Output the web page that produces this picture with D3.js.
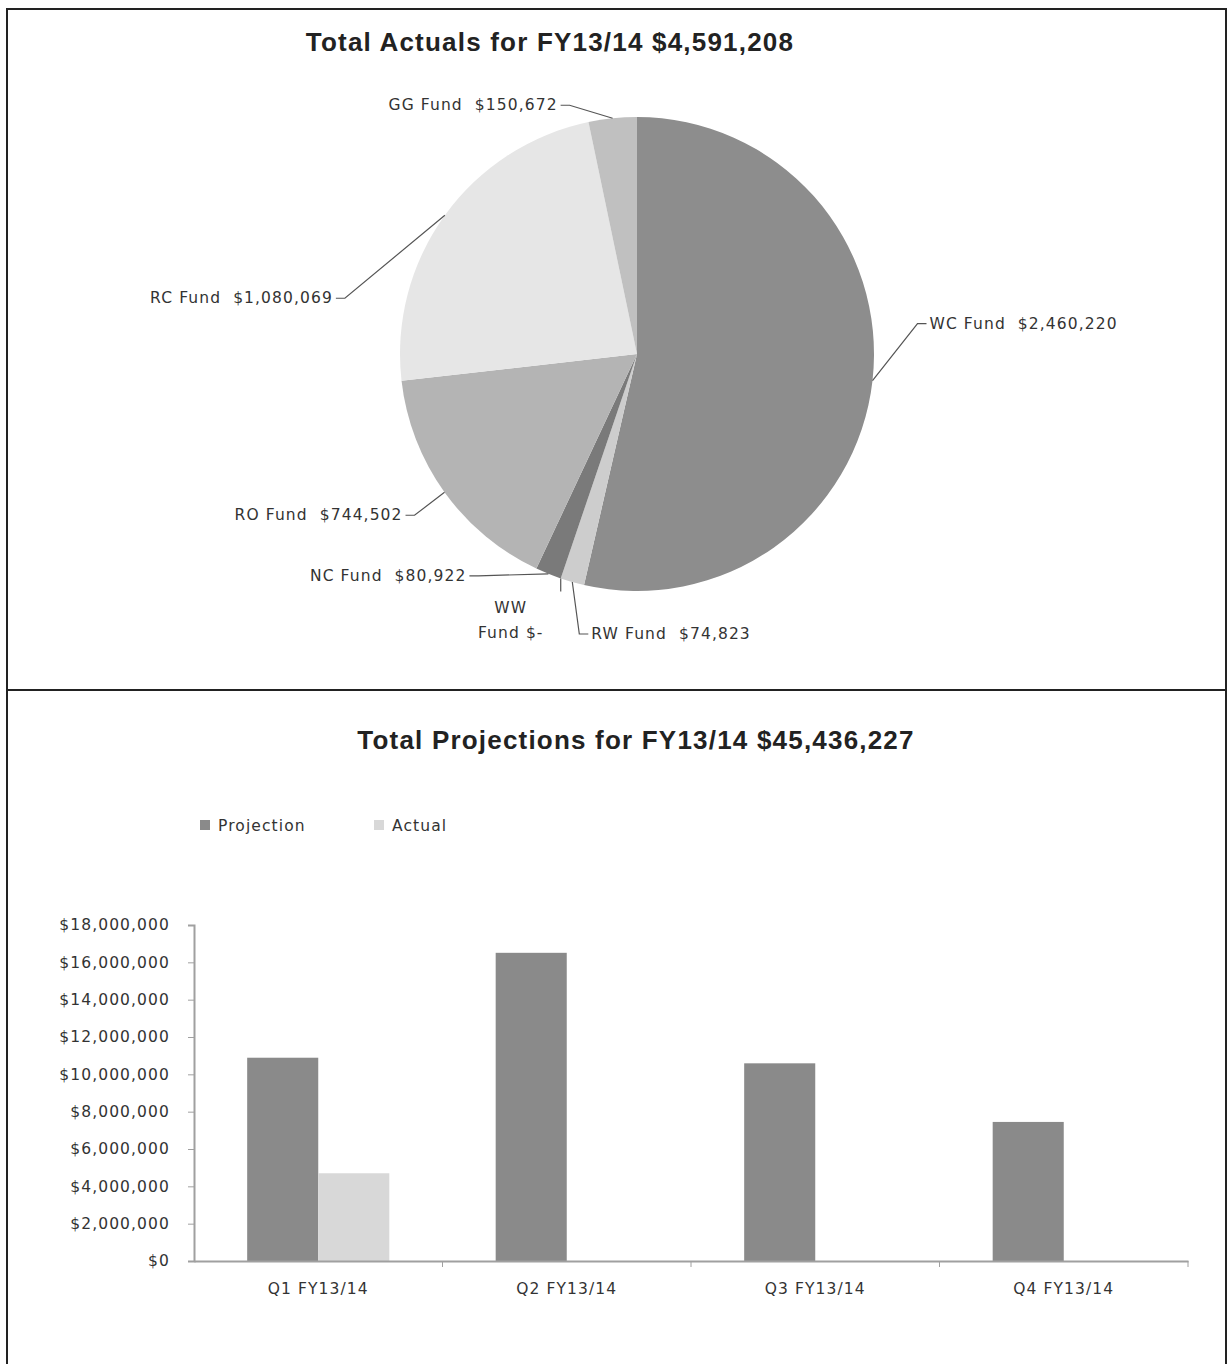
<!DOCTYPE html>
<html>
<head>
<meta charset="utf-8">
<script src="https://cdn.jsdelivr.net/npm/d3@7"></script>
<style>
  body { margin: 0; background: #fff; }
  svg { display: block; }
</style>
</head>
<body>
<div id="chart"></div>
<script>
// pie data
const fundNames = ['WC Fund', 'RW Fund', 'WW Fund', 'NC Fund', 'RO Fund', 'RC Fund', 'GG Fund'];
const fundValues = [2460220, 74823, 0, 80922, 744502, 1080069, 150672];
const fundColors = ['#8d8d8d', '#cdcdcd', '#a0a0a0', '#7a7a7a', '#b4b4b4', '#e6e6e6', '#c0c0c0'];

// bar data
const quarters = ['Q1 FY13/14', 'Q2 FY13/14', 'Q3 FY13/14', 'Q4 FY13/14'];
const seriesNames = ['Projection', 'Actual'];
const projectionValues = [10890000, 16510000, 10590000, 7450000];
const actualValues = [4700000, 0, 0, 0];
const yTicks = [0, 2000000, 4000000, 6000000, 8000000, 10000000, 12000000, 14000000, 16000000, 18000000];

const W = 1228, H = 1364;
const textColor = '#333';
const labelFont = '"DejaVu Sans", sans-serif';
const labelSize = '15.5px';
const labelSpacing = '1.1px';

const svg = d3.select('#chart')
    .append('svg')
    .attr('width', W)
    .attr('height', H);

svg.append('rect').attr('width', W).attr('height', H).attr('fill', '#fff');

// frame around both panels
svg.append('path')
    .attr('d', `M7,${H} L7,9 L1226,9 L1226,${H}`)
    .attr('fill', 'none')
    .attr('stroke', '#222')
    .attr('stroke-width', 2);
svg.append('line')
    .attr('x1', 7).attr('x2', 1226)
    .attr('y1', 690).attr('y2', 690)
    .attr('stroke', '#222')
    .attr('stroke-width', 2);

function styleLabel(sel) {
    return sel
        .style('font-family', labelFont)
        .style('font-size', labelSize)
        .style('letter-spacing', labelSpacing)
        .attr('fill', textColor);
}

function title(text, x, y) {
    svg.append('text')
        .attr('x', x).attr('y', y)
        .attr('text-anchor', 'middle')
        .style('font-family', '"Liberation Sans", Arial, sans-serif')
        .style('font-weight', 'bold')
        .style('font-size', '26px')
        .style('letter-spacing', '1.2px')
        .attr('fill', '#222')
        .text(text);
}

// ---------- pie ----------
title('Total Actuals for FY13/14 $4,591,208', 550, 51);

const cx = 637, cy = 354, radius = 237;
const pieG = svg.append('g').attr('transform', `translate(${cx},${cy})`);

const fundData = fundNames.map((name, i) => ({ name, value: fundValues[i], color: fundColors[i] }));
const pie = d3.pie().sort(null).value(d => d.value);
const arc = d3.arc().innerRadius(0).outerRadius(radius);
const arcs = pie(fundData);

pieG.selectAll('path.slice')
    .data(arcs)
    .join('path')
    .attr('class', 'slice')
    .attr('d', arc)
    .attr('fill', d => d.data.color);

// where each label sits, relative to the point where its leader touches the pie
const labelOffsets = [[45, -57], [7, 52], [0, 13], [-70, 2], [-30, 23], [-100, 83], [-43, -13]];
const labelSides = [1, 1, 0, -1, -1, -1, -1];
const fmtMoney = v => v === 0 ? '$-' : d3.format('$,')(v);

arcs.forEach((d, i) => {
    const mid = (d.startAngle + d.endAngle) / 2;
    const ex = Math.sin(mid) * radius;
    const ey = -Math.cos(mid) * radius;
    const bx = ex + labelOffsets[i][0];
    const by = ey + labelOffsets[i][1];
    const name = d.data.name;
    const money = fmtMoney(d.data.value);
    const dir = labelSides[i];

    if (dir === 0) {
        // the empty slice gets a short tick and a two-line label
        pieG.append('path')
            .attr('d', `M${ex},${ey} L${bx},${by}`)
            .attr('fill', 'none')
            .attr('stroke', '#555')
            .attr('stroke-width', 1.2);
        const t = styleLabel(pieG.append('text').attr('text-anchor', 'middle'));
        t.append('tspan').attr('x', bx - 50).attr('y', by + 22).text(name.split(' ')[0]);
        t.append('tspan').attr('x', bx - 50).attr('y', by + 47).text('Fund  ' + money);
        return;
    }

    const hx = bx + dir * 9;
    pieG.append('path')
        .attr('d', `M${ex},${ey} L${bx},${by} L${hx},${by}`)
        .attr('fill', 'none')
        .attr('stroke', '#555')
        .attr('stroke-width', 1.2);
    styleLabel(pieG.append('text'))
        .attr('x', hx + dir * 3)
        .attr('y', by + 5)
        .attr('text-anchor', dir > 0 ? 'start' : 'end')
        .style('white-space', 'pre')
        .text(name + '  ' + money);
});

// ---------- bars ----------
title('Total Projections for FY13/14 $45,436,227', 636, 749);

const seriesColors = ['#8a8a8a', '#d8d8d8'];

// legend
const legend = svg.append('g');
seriesNames.forEach((s, i) => {
    const lx = 200 + i * 174;
    legend.append('rect')
        .attr('x', lx).attr('y', 820)
        .attr('width', 10).attr('height', 10)
        .attr('fill', seriesColors[i]);
    styleLabel(legend.append('text'))
        .attr('x', lx + 18).attr('y', 831)
        .text(s);
});

const plotLeft = 194, plotRight = 1188, plotTop = 925, plotBottom = 1261;

const x = d3.scaleBand()
    .domain(quarters)
    .range([plotLeft, plotRight])
    .padding(0);
const groupW = x.bandwidth() * 0.572;
const x1 = d3.scaleBand()
    .domain(seriesNames)
    .range([0, groupW])
    .padding(0);
const y = d3.scaleLinear()
    .domain([0, 18000000])
    .range([plotBottom, plotTop]);

const rows = quarters.map((q, i) => ({ q, values: [projectionValues[i], actualValues[i]] }));

const groups = svg.append('g')
    .selectAll('g')
    .data(rows)
    .join('g')
    .attr('transform', d => `translate(${x(d.q) + (x.bandwidth() - groupW) / 2},0)`);

groups.selectAll('rect')
    .data(d => d.values.map((v, i) => ({ s: seriesNames[i], v, c: seriesColors[i] })))
    .join('rect')
    .attr('x', d => x1(d.s))
    .attr('width', x1.bandwidth())
    .attr('y', d => y(d.v))
    .attr('height', d => plotBottom - y(d.v))
    .attr('fill', d => d.c);

// y axis
const yAxis = svg.append('g')
    .attr('transform', `translate(${plotLeft},0)`)
    .call(d3.axisLeft(y)
        .tickValues(yTicks)
        .tickFormat(d3.format('$,'))
        .tickSize(6)
        .tickPadding(18));
yAxis.select('.domain').attr('stroke', '#a0a0a0').attr('stroke-width', 2);
yAxis.selectAll('.tick line').attr('stroke', '#a0a0a0');
styleLabel(yAxis.selectAll('text'));

// x axis, with ticks between categories
const xAxis = svg.append('g')
    .attr('transform', `translate(0,${plotBottom})`)
    .call(d3.axisBottom(x).tickSize(0).tickPadding(22).tickSizeOuter(0));
xAxis.select('.domain').attr('stroke', '#a0a0a0').attr('stroke-width', 2);
styleLabel(xAxis.selectAll('text'));
xAxis.selectAll('.sep')
    .data(quarters.slice(1).concat(['end']))
    .join('line')
    .attr('class', 'sep')
    .attr('x1', (d, i) => plotLeft + x.step() * (i + 1))
    .attr('x2', (d, i) => plotLeft + x.step() * (i + 1))
    .attr('y1', 0).attr('y2', 6)
    .attr('stroke', '#a0a0a0');
</script>
</body>
</html>
